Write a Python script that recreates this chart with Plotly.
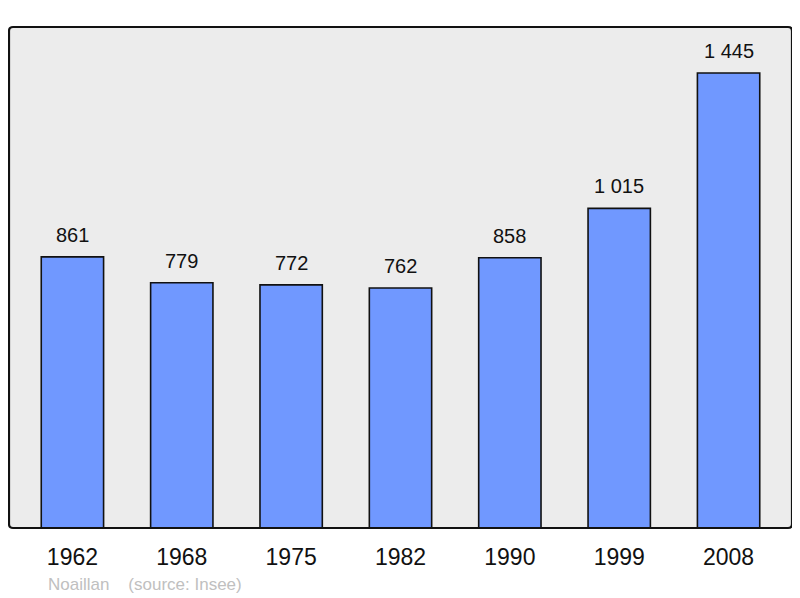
import plotly.graph_objects as go

# Données
annees = ["1962", "1968", "1975", "1982", "1990", "1999", "2008"]
population = [861, 779, 772, 762, 858, 1015, 1445]
etiquettes = ["861", "779", "772", "762", "858", "1 015", "1 445"]

couleur_barre = "#7098ff"
police = "Liberation Sans, Arial, sans-serif"

# la page a une marge de 8 px : la figure fait 792 x 590
W, H = 792, 590
l, r, t, b = 1, 8, 19, 70

fig = go.Figure()

fig.add_trace(go.Bar(
    x=annees,
    y=population,
    marker=dict(color=couleur_barre, line=dict(color="#111111", width=1.6)),
    width=0.57,
    hoverinfo="skip",
))

# valeurs au-dessus des barres
for i, (v, t_) in enumerate(zip(population, etiquettes)):
    fig.add_annotation(
        x=i, y=v, text=t_, showarrow=False,
        yanchor="bottom", yshift=9,
        font=dict(family=police, size=20, color="#111111"),
    )

fig.update_layout(
    width=W, height=H,
    margin=dict(l=l, r=r, t=t, b=b),
    paper_bgcolor="white",
    plot_bgcolor="#ececec",
    showlegend=False,
    xaxis=dict(
        type="category",
        range=[-0.58, 6.58],
        showgrid=False, zeroline=False, showline=False,
        ticks="outside", ticklen=8, tickcolor="rgba(0,0,0,0)",
        tickfont=dict(family=police, size=23, color="#111111"),
    ),
    yaxis=dict(
        range=[0, 1591],
        showgrid=False, zeroline=False, showline=False,
        showticklabels=False,
    ),
)

# cadre arrondi
pw = W - l - r
ph = H - t - b
rx = 4 / pw
ry = 4 / ph
chemin = (
    f"M {rx},1 L {1 - rx},1 Q 1,1 1,{1 - ry} L 1,{ry} Q 1,0 {1 - rx},0 "
    f"L {rx},0 Q 0,0 0,{ry} L 0,{1 - ry} Q 0,1 {rx},1 Z"
)
fig.add_shape(type="path", path=chemin, xref="paper", yref="paper",
              line=dict(color="#111111", width=2.2), layer="above")

# source
fig.add_annotation(
    text="Noaillan&nbsp;&nbsp;&nbsp;&nbsp;(source: Insee)",
    xref="paper", yref="paper", x=(38 - l) / pw, y=-(576 - (H - b)) / ph,
    xanchor="left", yanchor="middle", showarrow=False,
    font=dict(family=police, size=17, color="#c0c0c0"),
)

fig.write_html("out.html")
